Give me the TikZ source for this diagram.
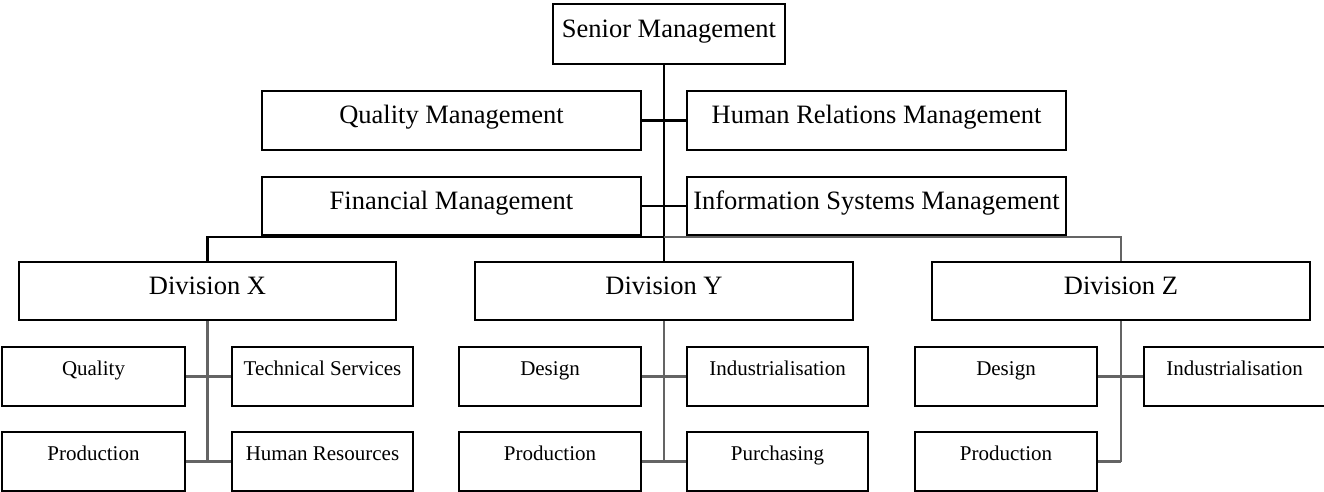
\documentclass[tikz,border=0pt]{standalone}
\usepackage{fontspec}
\setmainfont{Liberation Serif}
\definecolor{conn}{RGB}{100,100,100}
\tikzset{
  box/.style={draw, line width=1.35pt, inner sep=0pt, align=center},
  big/.style={box, font=\fontsize{13.25}{15}\selectfont, text height=9pt, text depth=5.5pt, minimum width=189.5pt, minimum height=29.5pt},
  small/.style={box, font=\fontsize{10.5}{12}\selectfont, text height=7pt, text depth=8pt, minimum width=91pt, minimum height=29.5pt},
  blk/.style={line width=1.35pt, black},
  gry/.style={line width=1.3pt, conn},
}
\begin{document}
\begin{tikzpicture}[x=0.5pt, y=-0.5pt]
\useasboundingbox (0,0) rectangle (1324,492);
% top level
\node[big, minimum width=116pt, minimum height=30pt] (sm) at (669,34) {Senior Management};
\node[big] (qm) at (451.5,120.5) {Quality Management};
\node[big] (hr) at (876.5,120.5) {Human Relations Management};
\node[big, minimum height=29pt] (fm) at (451.5,206) {Financial Management};
\node[big, minimum height=29pt] (is) at (876.5,206) {Information Systems Management};
% divisions
\node[big, minimum width=188.5pt, minimum height=29pt] (dx) at (207.5,291) {Division X};
\node[big, minimum width=189pt, minimum height=29pt] (dy) at (664,291) {Division Y};
\node[big, minimum width=189pt, minimum height=29pt] (dz) at (1121,291) {Division Z};
% division X
\node[small, minimum width=91.5pt] (xq) at (93.5,376.5) {Quality};
\node[small, minimum width=90.5pt] (xt) at (322.5,376.5) {Technical Services};
\node[small, minimum width=91.5pt] (xp) at (93.5,461.5) {Production};
\node[small, minimum width=90.5pt] (xh) at (322.5,461.5) {Human Resources};
% division Y
\node[small] (yd) at (550,376.5) {Design};
\node[small, minimum width=90.5pt] (yi) at (777.5,376.5) {Industrialisation};
\node[small] (yp) at (550,461.5) {Production};
\node[small, minimum width=90.5pt] (yu) at (777.5,461.5) {Purchasing};
% division Z
\node[small] (zd) at (1006,376.5) {Design};
\node[small, minimum width=90.5pt] (zi) at (1234.5,376.5) {Industrialisation};
\node[small] (zp) at (1006,461.5) {Production};
% top connectors
\coordinate (bus) at (664,237);
\draw[blk] (dy.north |- sm.south) -- (dy.north);
\draw[blk] (qm.east) -- (hr.west);
\draw[blk] (fm.east) -- (is.west);
\draw[blk] (dx.north) -- (dx.north |- bus) -- (bus);
\draw[gry] (bus) -- (bus -| dz.north) -- (dz.north);
% division X connectors
\coordinate (xb) at (dx.south |- xp.east);
\draw[gry] (dx.south) -- (xb);
\draw[gry] (xq.east) -- (xt.west);
\draw[gry] (xp.east) -- (xh.west);
% division Y connectors
\coordinate (yb) at (dy.south |- yp.east);
\draw[gry] (dy.south) -- (yb);
\draw[gry] (yd.east) -- (yi.west);
\draw[gry] (yp.east) -- (yu.west);
% division Z connectors
\coordinate (zb) at (dz.south |- zp.east);
\draw[gry] (dz.south) -- (zb);
\draw[gry] (zd.east) -- (zi.west);
\draw[gry] (zp.east) -- (zb);
\end{tikzpicture}
\end{document}
